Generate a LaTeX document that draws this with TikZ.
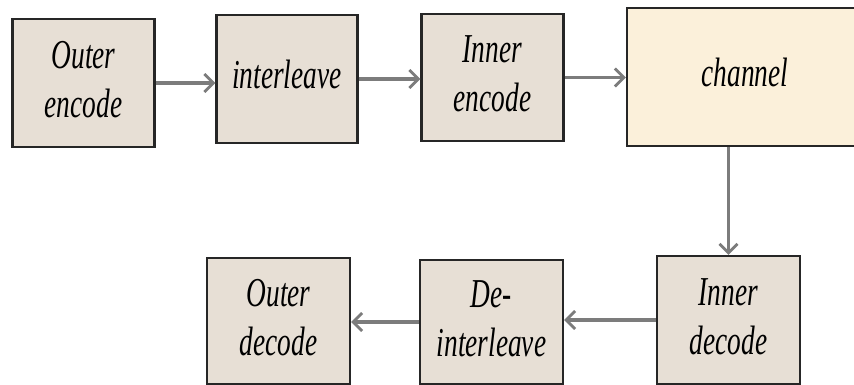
\documentclass[tikz,border=0pt]{standalone}
\usepackage{fontspec}
\setmainfont{Liberation Serif}
\usetikzlibrary{arrows.meta}
\definecolor{boxfill}{HTML}{E7DFD5}
\definecolor{chfill}{HTML}{FBF0DA}
\definecolor{boxline}{HTML}{262626}
\definecolor{arr}{HTML}{7C7C7C}
\newcommand{\lbl}[1]{\raisebox{-3pt}{\scalebox{0.72}[1.08]{\fontsize{38}{45}\selectfont\itshape\begin{tabular}{@{}c@{}}#1\end{tabular}}}}
\tikzset{
  blk/.style={draw=boxline, line width=2.4pt, fill=boxfill, rectangle, inner sep=0pt},
  chblk/.style={blk, fill=chfill},
  conn/.style={draw=arr, line width=3.2pt, -{Straight Barb[length=9pt,width=18pt,line width=2.8pt]}}
}
\begin{document}
\begin{tikzpicture}[x=1pt,y=-1pt]
\clip (0,0) rectangle (854,384);
\fill[white] (0,0) rectangle (854,384);
\node[blk, minimum width=142pt, minimum height=128pt] (oe) at (83.5,83) {\lbl{Outer\\encode}};
\node[blk, minimum width=141pt, minimum height=128pt] (il) at (287,79) {\lbl{interleave}};
\node[blk, minimum width=142pt, minimum height=127pt] (ie) at (492.5,77.5) {\lbl{Inner\\encode}};
\node[chblk, minimum width=236pt, minimum height=138pt] (ch) at (745,77) {\lbl{channel}};
\node[blk, minimum width=143pt, minimum height=128pt] (id) at (728.5,320) {\lbl{Inner\\decode}};
\node[blk, minimum width=143pt, minimum height=124pt] (di) at (491.5,322) {\lbl{De-\\interleave}};
\node[blk, minimum width=143pt, minimum height=126pt] (od) at (278.5,321) {\lbl{Outer\\decode}};
\draw[conn] (oe.east) -- (oe.east -| il.west);
\draw[conn] (il.east) -- (il.east -| ie.west);
\draw[conn] (ie.east) -- (ie.east -| ch.west);
\draw[conn] (id.north |- ch.south) -- (id.north);
\draw[conn] (id.west) -- (id.west -| di.east);
\draw[conn] (di.west) -- (di.west -| od.east);
\end{tikzpicture}
\end{document}
